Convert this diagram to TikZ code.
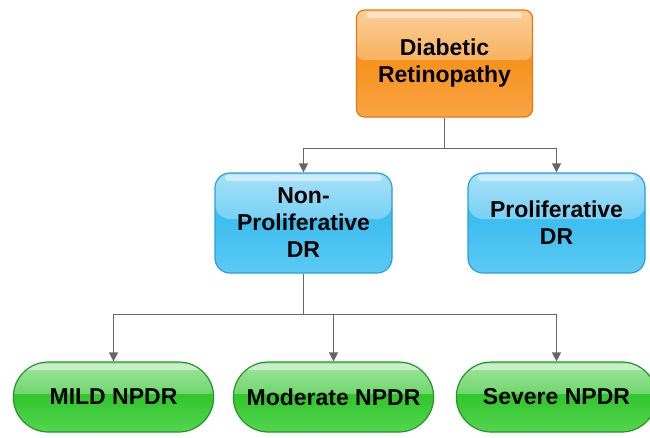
\documentclass[tikz,border=0pt]{standalone}
\usepackage{fontspec}
\setmainfont{Liberation Sans}
\usetikzlibrary{arrows.meta,shapes.misc,fadings}

\definecolor{orangeMid}{HTML}{F7931E}
\definecolor{orangeBot}{HTML}{F9A446}
\definecolor{orangeEdge}{HTML}{E07A12}
\definecolor{blueMid}{HTML}{3FBEF0}
\definecolor{blueBot}{HTML}{5CCAF4}
\definecolor{blueEdge}{HTML}{2A9FD8}
\definecolor{greenMid}{HTML}{33C62E}
\definecolor{greenBot}{HTML}{55D550}
\definecolor{greenEdge}{HTML}{23962A}
\definecolor{linkGray}{HTML}{666666}

\tikzset{
  x=1pt, y=-1pt,
  boxtext/.style={font=\fontsize{23}{27}\selectfont\bfseries, align=center, text=black},
  % glossy overlay: light upper half, thin highlight along the top edge
  gloss/.style={path picture={
      \fill[white, path fading=south, fill opacity=0.55]
        (path picture bounding box.north west) rectangle
        ([yshift=-#1]path picture bounding box.north east);
      \fill[white, fill opacity=0.45, rounded corners=3pt]
        ([xshift=10pt,yshift=-2pt]path picture bounding box.north west) rectangle
        ([xshift=-10pt,yshift=-8pt]path picture bounding box.north east);
  }},
  rootbox/.style={boxtext, draw=orangeEdge, line width=1.2pt,
      rounded corners=8pt, minimum width=176pt, minimum height=107pt,
      top color=orangeMid, bottom color=orangeBot, middle color=orangeMid,
      gloss=50pt},
  typebox/.style={boxtext, draw=blueEdge, line width=1.2pt,
      rounded corners=15pt, minimum width=177pt, minimum height=100pt,
      top color=blueMid, bottom color=blueBot, middle color=blueMid,
      gloss=46pt},
  gradebox/.style={boxtext, draw=greenEdge, line width=1.2pt,
      rounded rectangle, minimum height=70pt, minimum width=207pt,
      top color=greenMid, bottom color=greenBot, middle color=greenMid,
      gloss=32pt},
  link/.style={draw=linkGray, line width=1.3pt,
      -{Triangle[length=9pt,width=9pt]}},
}

\begin{document}
\begin{tikzpicture}
  \useasboundingbox (0,0) rectangle (650,437);

  % top level
  \node[rootbox] (dr) at (444.5,63.5) {Diabetic\\Retinopathy};

  % two main forms
  \node[typebox] (npdr) at (303.5,223) {Non-\\Proliferative\\DR};
  \node[typebox] (pdr)  at (556.5,223) {Proliferative\\DR};

  % grades of NPDR
  \node[gradebox] (mild) at (113.5,397) {MILD NPDR};
  \node[gradebox] (mod)  at (333.5,397) {Moderate NPDR};
  \node[gradebox] (sev)  at (556.5,397) {Severe NPDR};

  % connectors
  \draw[link] (dr.south) -- ++(0,31) -| (npdr.north);
  \draw[link] (dr.south) -- ++(0,31) -| (pdr.north);

  \draw[link] (npdr.south) -- ++(0,41) -| (mild.north);
  \draw[link] (npdr.south) -- ++(0,41) -| (mod.north);
  \draw[link] (npdr.south) -- ++(0,41) -| (sev.north);
\end{tikzpicture}
\end{document}
